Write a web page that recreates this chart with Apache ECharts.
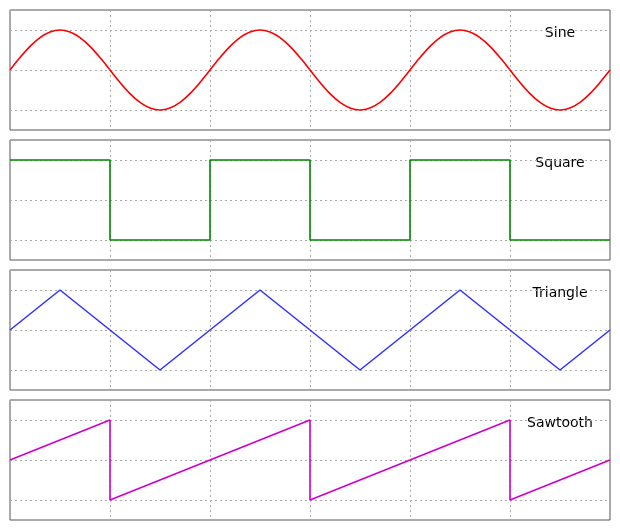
<!DOCTYPE html>
<html><head><meta charset="utf-8">
<script src="https://cdn.jsdelivr.net/npm/echarts@6/dist/echarts.min.js"></script>
<style>html,body{margin:0;padding:0;background:#fff}#c{width:620px;height:530px}</style>
</head><body><div id="c"></div>
<script>
const names = ['Sine','Square','Triangle','Sawtooth'];
const colors = ['#ff0000','#008800','#3333ff','#cc00cc'];
const sineCycle = [0,0.31,0.59,0.81,0.95,1,0.95,0.81,0.59,0.31,0,-0.31,-0.59,-0.81,-0.95,-1,-0.95,-0.81,-0.59,-0.31];
const sineY = [].concat(sineCycle, sineCycle, sineCycle, [0]);
const squareX = [0,1,1,2,2,3,3,4,4,5,5,6];
const squareY = [1,1,-1,-1,1,1,-1,-1,1,1,-1,-1];
const triX = [0,0.5,1.5,2.5,3.5,4.5,5.5,6];
const triY = [0,1,-1,1,-1,1,-1,0];
const sawX = [0,1,1,3,3,5,5,6];
const sawY = [0,1,-1,1,-1,1,-1,0];
const sineX = sineY.map((_,i)=>i/10);
const seriesXY = [[sineX,sineY],[squareX,squareY],[triX,triY],[sawX,sawY]];
const tops = [10,140,270,400];
const grids=[],xAxes=[],yAxes=[],series=[],graphics=[];
seriesXY.forEach((s,i)=>{
  grids.push({left:10,width:600,top:tops[i],height:120,show:true,borderColor:'#555',borderWidth:1,backgroundColor:'transparent'});
  xAxes.push({type:'value',gridIndex:i,min:0,max:6,interval:1,axisLine:{show:false},axisTick:{show:false},axisLabel:{show:false},
    splitLine:{show:true,lineStyle:{color:'#aaa',type:[2,3]}}});
  yAxes.push({type:'value',gridIndex:i,min:-1.5,max:1.5,interval:0.5,axisLine:{show:false},axisTick:{show:false},axisLabel:{show:false},
    splitLine:{show:true,lineStyle:{color:['transparent','#aaa','transparent','#aaa','transparent','#aaa','transparent'],type:[2,3]}}});
  series.push({type:'line',xAxisIndex:i,yAxisIndex:i,data:s[0].map((x,k)=>[x,s[1][k]]),showSymbol:false,smooth:i===0?0.3:false,
    lineStyle:{color:colors[i],width:1.6},animation:false});
  graphics.push({type:'text',x:560,y:tops[i]+16,style:{text:names[i],font:'14px "DejaVu Sans"',fill:'#000',textAlign:'center'}});
});
const chart=echarts.init(document.getElementById('c'));
chart.setOption({animation:false,grid:grids,xAxis:xAxes,yAxis:yAxes,series:series,graphic:graphics});
</script></body></html>
